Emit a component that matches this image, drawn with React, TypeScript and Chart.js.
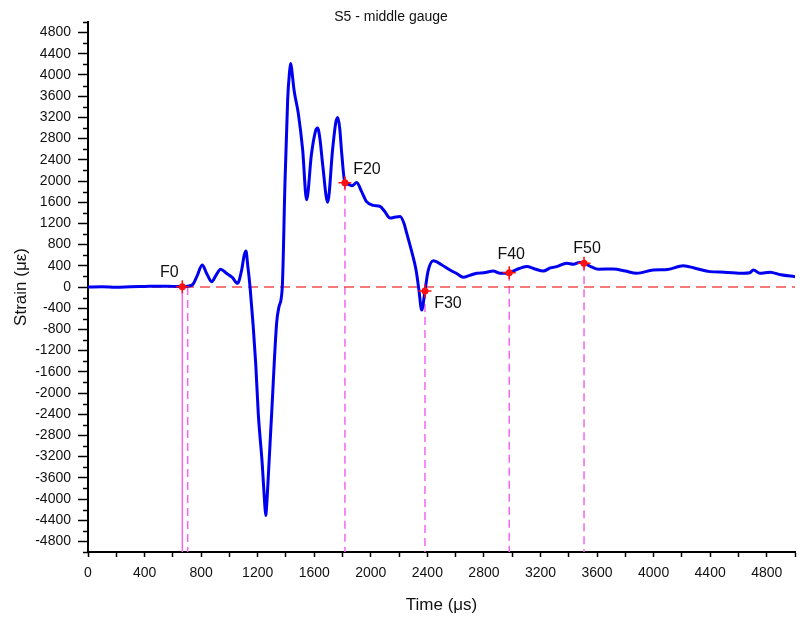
import React, { useEffect, useRef } from 'react';
import { Chart, registerables } from 'chart.js';

Chart.register(...registerables);

// ---- data ----
const titleText = 'S5 - middle gauge';
const xTitle = 'Time (\u03bcs)';
const yTitle = 'Strain (\u03bc\u03b5)';

const timeUs = [
  0, 100, 200, 300, 400, 500, 560, 620, 667, 705, 742, 770, 808, 840, 875, 905, 938, 976, 1020, 1058,
  1085, 1105, 1117, 1130, 1146, 1186, 1204, 1232, 1250, 1257, 1264, 1280, 1299, 1334, 1351, 1374, 1393, 1412, 1425, 1433,
  1441, 1457, 1487, 1518, 1546, 1580, 1610, 1624, 1640, 1660, 1695, 1730, 1752, 1766, 1780, 1795, 1817, 1840, 1867, 1900,
  1935, 1970, 2020, 2065, 2100, 2136, 2175, 2207, 2235, 2254, 2289, 2320, 2340, 2360, 2383, 2405, 2442, 2500, 2560, 2610,
  2654, 2700, 2749, 2800, 2866, 2914, 2979, 3040, 3102, 3160, 3220, 3270, 3314, 3385, 3433, 3475, 3508, 3560, 3610, 3715,
  3800, 3880, 3998, 4100, 4210, 4300, 4399, 4500, 4635, 4680, 4706, 4752, 4823, 4900, 5000,
];
const strainUe = [
  0, 5, -5, 5, 10, 15, 15, 10, 5, 15, 50, 200, 415, 250, 100, 220, 335, 265, 180, 70,
  300, 600, 680, 400, 0, -1440, -2380, -3330, -4100, -4310, -4100, -3330, -2380, -680, -370, 0, 1960, 3535, 4050, 4215,
  4100, 3720, 3280, 2590, 1645, 2500, 2950, 3000, 2800, 2300, 1600, 2600, 3100, 3200, 3000, 2500, 1966, 1940, 1910, 1970,
  1800, 1610, 1540, 1520, 1420, 1300, 1320, 1330, 1200, 1015, 670, 320, -50, -435, -76, 300, 497, 420, 320, 250,
  185, 220, 260, 270, 300, 260, 270, 340, 385, 340, 300, 360, 385, 450, 430, 460, 448, 380, 335, 340,
  300, 260, 320, 330, 400, 350, 290, 280, 260, 270, 320, 260, 280, 230, 195,
];

const markerLabels = ['F0', 'F20', 'F30', 'F40', 'F50'];
const markerTimes = [667, 1817, 2383, 2979, 3508];
const markerStrains = [5, 1966, -76, 270, 448];
const extraDashedTime = 705; // dashed guide just after F0
const xMin = 0;
const xMax = 5000;
const yMin = -5000;
const yMax = 5000;
const minorStep = 200;
const labelStep = 400;

// ---- layout / style (not data) ----
const labelOffsets = [
  [-13, -14],
  [22, -13],
  [23, 13],
  [2, -18],
  [3, -15],
];
const FONT = '"Liberation Sans", Arial, sans-serif';
const MAGENTA = '#f366f3';

export default function App() {
  const ref = useRef<HTMLCanvasElement | null>(null);

  useEffect(() => {
    document.body.style.margin = '0';
    const canvas = ref.current;
    if (!canvas) return;

    const annotations = {
      id: 'annotations',
      afterDraw(chart: any) {
        const { ctx, chartArea } = chart;
        const xs = chart.scales.x;
        const ys = chart.scales.y;
        ctx.save();
        // minor ticks on y axis
        ctx.strokeStyle = '#000';
        ctx.lineWidth = 1.5;
        for (let v = yMin; v <= yMax; v += minorStep) {
          if (v % labelStep === 0) continue;
          const py = Math.round(ys.getPixelForValue(v)) + 0.5;
          ctx.beginPath();
          ctx.moveTo(chartArea.left - 5, py);
          ctx.lineTo(chartArea.left, py);
          ctx.stroke();
        }
        // marker labels
        ctx.fillStyle = '#111';
        ctx.textAlign = 'center';
        ctx.textBaseline = 'middle';
        ctx.font = '16px ' + FONT;
        markerLabels.forEach((lab, i) => {
          const px = xs.getPixelForValue(markerTimes[i]) + labelOffsets[i][0];
          const py = ys.getPixelForValue(markerStrains[i]) + labelOffsets[i][1];
          ctx.fillText(lab, px, py);
        });
        // title
        ctx.font = '14px ' + FONT;
        ctx.fillText(titleText, 391, 17);
        ctx.restore();
      },
    };

    const vlines: any[] = markerTimes.map((t, i) => ({
      data: [
        { x: t, y: markerStrains[i] },
        { x: t, y: yMin },
      ],
      borderColor: MAGENTA,
      borderWidth: 1.5,
      borderDash: i === 0 ? [] : [8, 5],
      pointRadius: 0,
      order: 5,
    }));
    vlines.push({
      data: [
        { x: extraDashedTime, y: 0 },
        { x: extraDashedTime, y: yMin },
      ],
      borderColor: MAGENTA,
      borderWidth: 1.5,
      borderDash: [8, 5],
      pointRadius: 0,
      order: 5,
    });

    const markerData = markerTimes.map((t, i) => ({ x: t, y: markerStrains[i] }));

    const chart = new Chart(canvas, {
      type: 'line',
      data: {
        datasets: [
          {
            data: markerData,
            showLine: false,
            pointStyle: 'circle',
            pointRadius: 3.5,
            pointBackgroundColor: '#ff1010',
            pointBorderColor: '#ff1010',
            pointBorderWidth: 0,
            order: 0,
          },
          {
            data: markerData,
            showLine: false,
            pointStyle: 'cross',
            pointRadius: 6.5,
            pointBorderColor: '#ff1010',
            pointBorderWidth: 1.5,
            order: 1,
          },
          {
            data: timeUs.map((t, i) => ({ x: t, y: strainUe[i] })),
            borderColor: '#0000f0',
            borderWidth: 3,
            pointRadius: 0,
            cubicInterpolationMode: 'monotone',
            order: 3,
          },
          {
            data: [
              { x: xMin, y: 0 },
              { x: xMax, y: 0 },
            ],
            borderColor: 'rgba(240,60,60,0.9)',
            borderWidth: 1.3,
            borderDash: [10, 6],
            pointRadius: 0,
            order: 4,
          },
          ...vlines,
        ] as any,
      },
      options: {
        responsive: false,
        animation: false,
        events: [],
        layout: { padding: { top: 22, right: 9, left: 0, bottom: 0 } },
        plugins: {
          legend: { display: false },
          tooltip: { enabled: false },
          title: { display: false },
        },
        scales: {
          x: {
            type: 'linear',
            min: xMin,
            max: xMax,
            afterFit: (s: any) => {
              s.height = 68;
            },
            border: { display: true, color: '#000', width: 2 },
            grid: {
              drawOnChartArea: false,
              drawTicks: true,
              tickLength: 5,
              tickColor: '#000',
              tickWidth: 1.5,
            },
            ticks: {
              stepSize: minorStep,
              autoSkip: false,
              maxRotation: 0,
              maxTicksLimit: 100,
              padding: 8,
              color: '#111',
              font: { family: FONT, size: 14 },
              callback: (v: any) => (Math.round(v) % labelStep === 0 ? String(Math.round(v)) : ''),
            },
            title: {
              display: true,
              text: xTitle,
              color: '#111',
              font: { family: FONT, size: 17 },
              padding: { top: 0, bottom: 4 },
            },
          },
          y: {
            type: 'linear',
            min: yMin,
            max: yMax,
            afterFit: (s: any) => {
              s.width = 88;
            },
            border: { display: true, color: '#000', width: 2 },
            grid: {
              drawOnChartArea: false,
              drawTicks: true,
              tickLength: 10,
              tickWidth: 1.5,
              tickColor: (c: any) =>
                c.tick && Math.round(c.tick.value) % labelStep === 0 ? '#000' : 'rgba(0,0,0,0)',
            },
            ticks: {
              stepSize: minorStep,
              autoSkip: false,
              maxTicksLimit: 100,
              padding: 7,
              color: '#111',
              font: { family: FONT, size: 14 },
              callback: (v: any) => (Math.round(v) % labelStep === 0 ? String(Math.round(v)) : ''),
            },
            title: {
              display: true,
              text: yTitle,
              color: '#111',
              font: { family: FONT, size: 17 },
              padding: { top: 11, bottom: 0 },
            },
          },
        },
      },
      plugins: [annotations],
    } as any);

    return () => chart.destroy();
  }, []);

  return (
    <div style={{ width: 804, height: 620, background: '#fff' }}>
      <canvas ref={ref} width={804} height={620} style={{ display: 'block' }} />
    </div>
  );
}
